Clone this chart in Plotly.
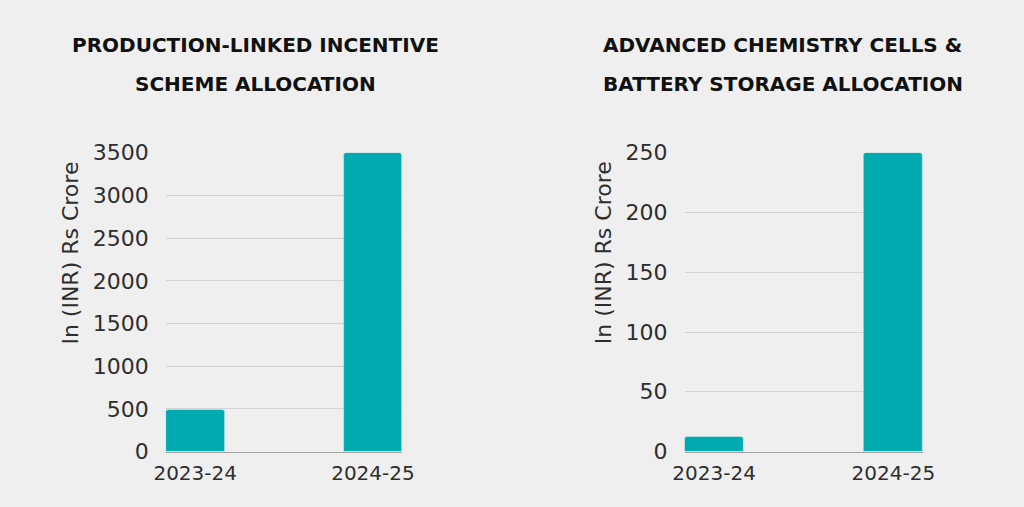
import plotly.graph_objects as go

years = ["2023-24", "2024-25"]
pli_values = [484, 3500]
acc_values = [12, 250]
pli_ticks = [0, 500, 1000, 1500, 2000, 2500, 3000, 3500]
acc_ticks = [0, 50, 100, 150, 200, 250]
title_left = ["PRODUCTION-LINKED INCENTIVE", "SCHEME ALLOCATION"]
title_right = ["ADVANCED CHEMISTRY CELLS &", "BATTERY STORAGE ALLOCATION"]
y_title = "In (INR) Rs Crore"

W, H = 1024, 507
BG = "#efefef"
BAR = "#00abb0"
TXT = "#2e2e2e"
FONT = "DejaVu Sans"


# map target screen pixels to paper fractions (measured from the rendered page)
def fx(px):
    return (px - 9.75) / 1002.5


def fy(py):
    return 1 - (py - 15.25) / 477.5


fig = go.Figure()
fig.add_trace(go.Bar(x=years, y=pli_values, marker=dict(color=BAR, cornerradius=3),
                     width=0.33, xaxis="x", yaxis="y", showlegend=False))
fig.add_trace(go.Bar(x=years, y=acc_values, marker=dict(color=BAR, cornerradius=3),
                     width=0.33, xaxis="x2", yaxis="y2", showlegend=False))

ydom = [fy(450.7), fy(154.7)]
common_x = dict(showgrid=False, showline=True, linecolor="#a0a0a0", linewidth=1,
                tickfont=dict(family=FONT, size=20, color=TXT), ticks="",
                range=[-0.165, 1.165], ticklabelstandoff=3, fixedrange=True)
common_y = dict(showgrid=True, gridcolor="#d2d2d2", gridwidth=1, zeroline=False,
                showline=False, tickfont=dict(family=FONT, size=22, color=TXT),
                ticks="", ticklabelstandoff=16, fixedrange=True)

fig.update_layout(
    width=W, height=H, margin=dict(l=0, r=0, t=0, b=0),
    paper_bgcolor=BG, plot_bgcolor=BG, bargap=0,
    xaxis=dict(domain=[fx(164), fx(401)], anchor="y", **common_x),
    yaxis=dict(domain=ydom, anchor="x", range=[0, 3500], tickvals=pli_ticks, **common_y),
    xaxis2=dict(domain=[fx(684), fx(923)], anchor="y2", **common_x),
    yaxis2=dict(domain=ydom, anchor="x2", range=[0, 250], tickvals=acc_ticks, **common_y),
)

tfont = dict(family="DejaVu Sans", size=20, color="#111111", weight="bold")
for xc, lines in [(254, title_left), (782.5, title_right)]:
    for ln, yc in zip(lines, [48, 87]):
        fig.add_annotation(text=ln, x=fx(xc), y=fy(yc), xref="paper", yref="paper",
                           showarrow=False, xanchor="center", yanchor="middle", font=tfont)

for xc in [67.5, 602.5]:
    fig.add_annotation(text=y_title, x=fx(xc), y=fy(254), xref="paper", yref="paper",
                       showarrow=False, textangle=-90, xanchor="center", yanchor="middle",
                       font=dict(family=FONT, size=22, color=TXT))

fig.write_html("out.html", config={"displayModeBar": False},
               post_script="document.body.style.margin='0';document.body.style.overflow='hidden';")
